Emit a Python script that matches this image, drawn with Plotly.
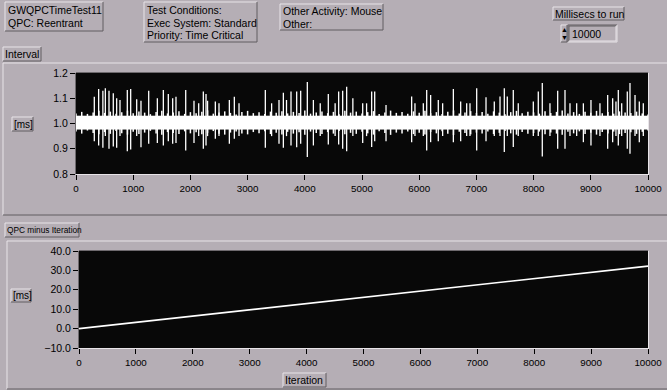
import plotly.graph_objects as go

W, H = 667, 390

# ---------------- data ----------------
# solid core of the Interval trace (ms)
core_low = 0.977
core_high = 1.030
# fuzzy outer edge of the trace, sampled every 100 iterations
band_iter = list(range(0, 10001, 100))
band_top = [
    1.040, 1.046, 1.038, 1.044, 1.050, 1.042, 1.047, 1.039, 1.045, 1.051,
    1.041, 1.048, 1.043, 1.037, 1.046, 1.050, 1.040, 1.044, 1.049, 1.038,
    1.045, 1.041, 1.047, 1.052, 1.039, 1.044, 1.048, 1.042, 1.036, 1.046,
    1.050, 1.041, 1.045, 1.038, 1.047, 1.043, 1.049, 1.040, 1.046, 1.042,
    1.051, 1.039, 1.044, 1.048, 1.041, 1.046, 1.037, 1.050, 1.043, 1.047,
    1.040, 1.045, 1.049, 1.038, 1.044, 1.051, 1.042, 1.046, 1.039, 1.048,
    1.043, 1.050, 1.041, 1.045, 1.038, 1.047, 1.052, 1.040, 1.044, 1.049,
    1.042, 1.046, 1.039, 1.048, 1.043, 1.037, 1.045, 1.050, 1.041, 1.047,
    1.044, 1.039, 1.049, 1.042, 1.046, 1.051, 1.040, 1.045, 1.038, 1.047,
    1.043, 1.050, 1.041, 1.046, 1.039, 1.048, 1.044, 1.042, 1.047, 1.040,
    1.036,
]
band_bottom = [
    0.968, 0.960, 0.972, 0.962, 0.957, 0.966, 0.959, 0.970, 0.961, 0.956,
    0.967, 0.958, 0.964, 0.971, 0.960, 0.955, 0.966, 0.962, 0.958, 0.969,
    0.961, 0.965, 0.957, 0.963, 0.970, 0.959, 0.956, 0.964, 0.968, 0.960,
    0.957, 0.966, 0.961, 0.969, 0.958, 0.963, 0.956, 0.967, 0.960, 0.965,
    0.955, 0.968, 0.962, 0.958, 0.966, 0.960, 0.970, 0.957, 0.963, 0.959,
    0.967, 0.961, 0.956, 0.969, 0.962, 0.955, 0.964, 0.960, 0.968, 0.958,
    0.963, 0.956, 0.966, 0.961, 0.969, 0.959, 0.954, 0.967, 0.962, 0.957,
    0.964, 0.960, 0.968, 0.958, 0.963, 0.970, 0.961, 0.956, 0.966, 0.959,
    0.962, 0.968, 0.957, 0.964, 0.960, 0.955, 0.967, 0.961, 0.969, 0.958,
    0.963, 0.956, 0.966, 0.960, 0.968, 0.958, 0.962, 0.965, 0.959, 0.967,
    0.972,
]

spike_iter = [
    320, 396, 470, 513, 577, 652, 711, 769, 897, 956,
    1061, 1136, 1271, 1422, 1527, 1614, 1690, 1748, 1918, 2063,
    2145, 2226, 2273, 2300, 2436, 2500, 2681, 2768, 2850, 3310,
    3420, 3549, 3625, 3680, 3759, 3858, 3928, 4044, 4150, 4270,
    4411, 4530, 4592, 4662, 4732, 4840, 5012, 5080, 5169, 5222,
    5420, 5868, 5926, 6072, 6131, 6200, 6334, 6410, 6597, 6725,
    6830, 6888, 7005, 7168, 7313, 7413, 7488, 7540, 7645, 7732,
    7995, 8082, 8152, 8286, 8421, 8549, 8636, 8753, 8870, 9003,
    9160, 9295, 9382, 9440, 9481, 9540, 9638, 9685, 9773, 9848,
    9918,
]
spike_high = [
    1.106, 1.137, 1.130, 1.140, 1.130, 1.120, 1.100, 1.093, 1.133, 1.137,
    1.096, 1.090, 1.130, 1.100, 1.133, 1.117, 1.100, 1.106, 1.133, 1.090,
    1.080, 1.127, 1.117, 1.090, 1.087, 1.080, 1.093, 1.106, 1.080, 1.133,
    1.080, 1.093, 1.122, 1.093, 1.127, 1.127, 1.130, 1.164, 1.093, 1.080,
    1.117, 1.080, 1.127, 1.130, 1.146, 1.100, 1.080, 1.080, 1.127, 1.127,
    1.073, 1.107, 1.080, 1.080, 1.133, 1.113, 1.093, 1.080, 1.137, 1.087,
    1.080, 1.080, 1.140, 1.104, 1.087, 1.107, 1.140, 1.107, 1.133, 1.080,
    1.087, 1.127, 1.160, 1.080, 1.130, 1.133, 1.080, 1.080, 1.080, 1.093,
    1.080, 1.113, 1.100, 1.087, 1.133, 1.080, 1.127, 1.160, 1.113, 1.087,
    1.080,
]
spike_low = [
    0.930, 0.913, 0.904, 0.950, 0.900, 0.909, 0.904, 0.950, 0.890, 0.897,
    0.950, 0.906, 0.920, 0.923, 0.913, 0.930, 0.920, 0.923, 0.893, 0.923,
    0.950, 0.900, 0.913, 0.950, 0.940, 0.950, 0.920, 0.940, 0.950, 0.904,
    0.950, 0.920, 0.904, 0.950, 0.913, 0.906, 0.920, 0.867, 0.913, 0.950,
    0.917, 0.950, 0.917, 0.900, 0.890, 0.950, 0.923, 0.950, 0.907, 0.930,
    0.930, 0.926, 0.950, 0.950, 0.893, 0.926, 0.930, 0.950, 0.926, 0.930,
    0.950, 0.950, 0.893, 0.930, 0.950, 0.950, 0.887, 0.950, 0.907, 0.950,
    0.950, 0.950, 0.869, 0.950, 0.900, 0.900, 0.950, 0.950, 0.926, 0.913,
    0.950, 0.900, 0.926, 0.950, 0.913, 0.950, 0.900, 0.880, 0.950, 0.926,
    0.950,
]

qpc_iter = [0, 10000]
qpc_ms = [0.0, 32.2]

x_ticks = [0, 1000, 2000, 3000, 4000, 5000, 6000, 7000, 8000, 9000, 10000]
x_tick_text = ["0", "1000", "2000", "3000", "4000", "5000", "6000", "7000",
               "8000", "9000", "10000"]
interval_ticks = [0.8, 0.9, 1.0, 1.1, 1.2]
qpc_ticks = [-10.0, 0.0, 10.0, 20.0, 30.0, 40.0]

# ---------------- styling helpers ----------------
BG = "rgb(181,174,181)"
PLOT_BG = "rgb(8,8,8)"
LIGHT = "rgb(232,228,232)"
DARK = "rgb(96,92,96)"
FONT = "Liberation Sans, Arial, sans-serif"


def px(x):
    return x / W


def py(y):
    return 1 - y / H


shapes = []
annotations = []


def seg(x0, y0, x1, y1, color, width=1):
    shapes.append(dict(type="line", xref="paper", yref="paper",
                       x0=px(x0), y0=py(y0), x1=px(x1), y1=py(y1),
                       line=dict(color=color, width=width), layer="above"))


def raised_box(x0, y0, x1, y1, inset=False):
    tl, br = (DARK, LIGHT) if inset else (LIGHT, DARK)
    seg(x0, y0, x1, y0, tl)
    seg(x0, y0, x0, y1, tl)
    seg(x0, y1, x1, y1, br)
    seg(x1, y0, x1, y1, br)


def text(x, y, s, size=10.5, anchor="left"):
    annotations.append(dict(xref="paper", yref="paper", x=px(x), y=py(y),
                            text=s, showarrow=False, xanchor=anchor,
                            yanchor="middle", borderpad=0,
                            font=dict(family=FONT, size=size, color="black")))


# ---------------- figure ----------------
fig = go.Figure()

# solid core of the Interval trace
fig.add_trace(go.Scatter(x=[0, 10000, 10000, 0], y=[core_low, core_low, core_high, core_high],
                         mode="lines", fill="toself", fillcolor="white",
                         line=dict(color="white", width=0.5),
                         xaxis="x", yaxis="y", hoverinfo="skip"))
# fuzzy edge of the trace
fx, fy = [], []
for it, hi, lo in zip(band_iter, band_top, band_bottom):
    fx += [it, it, None]
    fy += [lo, hi, None]
fig.add_trace(go.Scatter(x=fx, y=fy, mode="lines",
                         line=dict(color="white", width=1.5),
                         xaxis="x", yaxis="y", hoverinfo="skip"))
# Interval spikes
sx, sy = [], []
for it, hi, lo in zip(spike_iter, spike_high, spike_low):
    sx += [it, it, None]
    sy += [lo, hi, None]
fig.add_trace(go.Scatter(x=sx, y=sy, mode="lines",
                         line=dict(color="white", width=1.3),
                         xaxis="x", yaxis="y", hoverinfo="skip"))

# QPC minus iteration
fig.add_trace(go.Scatter(x=qpc_iter, y=qpc_ms, mode="lines",
                         line=dict(color="white", width=1.6),
                         xaxis="x2", yaxis="y2", hoverinfo="skip"))

axis_common = dict(showgrid=False, zeroline=False, showline=False,
                   automargin=False,
                   ticks="outside", ticklen=5, tickwidth=1, tickcolor="black")
xfont = dict(family=FONT, size=9.8, color="black")
yfont = dict(family=FONT, size=10.5, color="black")

p1 = dict(x0=76, x1=648, y0=73, y1=174)
p2 = dict(x0=79, x1=648, y0=251, y1=348)

fig.update_layout(
    width=W, height=H, autosize=False,
    margin=dict(l=0, r=0, t=0, b=0, pad=0, autoexpand=False),
    paper_bgcolor=BG, plot_bgcolor=PLOT_BG,
    showlegend=False,
    xaxis=dict(domain=[px(p1["x0"]), px(p1["x1"])], range=[0, 10000],
               tickvals=x_ticks, ticktext=x_tick_text, anchor="y",
               tickfont=xfont, **axis_common),
    yaxis=dict(domain=[py(p1["y1"]), py(p1["y0"])], range=[0.8, 1.2],
               tickvals=interval_ticks, tickformat=".1f", anchor="x",
               tickfont=yfont, **axis_common),
    xaxis2=dict(domain=[px(p2["x0"]), px(p2["x1"])], range=[0, 10000],
                tickvals=x_ticks, ticktext=x_tick_text, anchor="y2",
                tickfont=xfont, **axis_common),
    yaxis2=dict(domain=[py(p2["y1"]), py(p2["y0"])], range=[-10, 40],
                tickvals=qpc_ticks, tickformat=".1f", anchor="x2",
                tickfont=yfont, **axis_common),
)

# plot area inset frames
for p in (p1, p2):
    seg(p["x0"], p["y0"] - 0.5, p["x1"], p["y0"] - 0.5, "rgb(110,106,110)")
    seg(p["x0"] - 0.5, p["y0"], p["x0"] - 0.5, p["y1"], "rgb(110,106,110)")
    seg(p["x0"], p["y1"] + 0.5, p["x1"] + 1, p["y1"] + 0.5, LIGHT)
    seg(p["x1"] + 0.5, p["y0"], p["x1"] + 0.5, p["y1"], LIGHT)

# panel frames
seg(3, 63, 667, 63, LIGHT)
seg(3, 63, 3, 215, LIGHT)
seg(3, 215, 667, 215, DARK)
seg(7, 241, 667, 241, LIGHT)
seg(7, 241, 7, 389, LIGHT)
seg(7, 389, 667, 389, DARK)

# header boxes
raised_box(5, 2, 103, 31)
text(6.5, 9.5, "GWQPCTimeTest11")
text(6.5, 22.5, "QPC: Reentrant")

raised_box(144, 2, 257, 42)
text(145.5, 9.5, "Test Conditions:")
text(145.5, 22.5, "Exec System: Standard")
text(145.5, 34.5, "Priority: Time Critical")

raised_box(280, 4, 383, 30)
text(281.5, 11, "Other Activity: Mouse")
text(281.5, 24, "Other:")

raised_box(553, 7, 624, 20)
text(554, 13.8, "Millisecs to run")

# numeric control
raised_box(561, 25, 567, 42)
text(564, 29.5, "▲", size=7, anchor="center")
text(564, 37.5, "▼", size=7, anchor="center")
raised_box(568, 25, 617, 42, inset=True)
raised_box(569, 26, 616, 41, inset=True)
text(570.5, 34, "10000")

# graph labels
raised_box(3, 47, 41, 61)
text(4, 54.3, "Interval")
raised_box(12, 117, 33, 131)
text(12.5, 124.3, "[ms]", size=10)

raised_box(5, 223, 79, 237)
text(5.5, 230.3, "QPC minus Iteration", size=8.3)
raised_box(11, 289, 31, 302)
text(11.5, 295.8, "[ms]", size=10)

raised_box(283, 373, 326, 387)
text(284, 380.3, "Iteration")

fig.update_layout(shapes=shapes, annotations=annotations)

fig.write_html("out.html")
